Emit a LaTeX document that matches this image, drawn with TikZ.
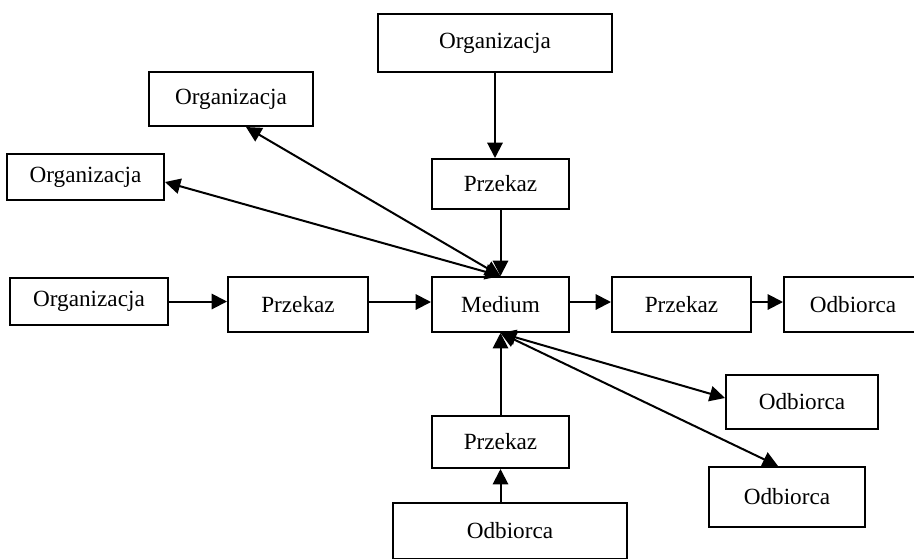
\documentclass[tikz,border=0pt]{standalone}
\usepackage{fontspec}
\setmainfont{Liberation Serif}
\usetikzlibrary{arrows.meta,calc}
\begin{document}
\begin{tikzpicture}[x=0.75pt,y=-0.75pt,
  box/.style={draw,line width=1.5pt,inner sep=0pt,font=\fontsize{17.4}{20}\selectfont},
  conn/.style={line width=1.5pt,-{Triangle[length=11.5pt,width=11.5pt]}},
  biconn/.style={line width=1.5pt,{Triangle[length=11.5pt,width=11.5pt]}-{Triangle[length=11.5pt,width=11.5pt]}}]
\useasboundingbox (0,0) rectangle (914,558);
\clip (0,0) rectangle (914,558);
% nodes
\node[box,minimum width=234*0.75pt,minimum height=58*0.75pt] (orgTop) at (495,43) {Organizacja};
\node[box,minimum width=164*0.75pt,minimum height=54*0.75pt] (orgUL) at (231,99) {Organizacja};
\node[box,minimum width=157*0.75pt,minimum height=46*0.75pt] (orgL) at (85.5,177) {Organizacja};
\node[box,minimum width=137*0.75pt,minimum height=50*0.75pt] (przTop) at (500.5,184) {Przekaz};
\node[box,minimum width=158*0.75pt,minimum height=47*0.75pt] (orgML) at (89,301.5) {Organizacja};
\node[box,minimum width=140*0.75pt,minimum height=55*0.75pt] (przML) at (298,304.5) {Przekaz};
\node[box,minimum width=137*0.75pt,minimum height=55*0.75pt] (medium) at (500.5,304.5) {Medium};
\node[box,minimum width=139*0.75pt,minimum height=55*0.75pt] (przR) at (681.5,304.5) {Przekaz};
\node[box,minimum width=138*0.75pt,minimum height=55*0.75pt] (odbR) at (853,304.5) {Odbiorca};
\node[box,minimum width=152*0.75pt,minimum height=54*0.75pt] (odb1) at (802,402) {Odbiorca};
\node[box,minimum width=137*0.75pt,minimum height=52*0.75pt] (przBot) at (500.5,442) {Przekaz};
\node[box,minimum width=156*0.75pt,minimum height=60*0.75pt] (odb2) at (787,497) {Odbiorca};
\node[box,minimum width=234*0.75pt,minimum height=56*0.75pt] (odbBot) at (510,531) {Odbiorca};
% connectors
\draw[conn] (orgTop.south -| 495,0) -- (495,0 |- przTop.north);
\draw[conn] (przTop.south) -- (medium.north);
\draw[biconn] ($(orgUL.south)+(15,0)$) -- (medium.north);
\draw[biconn] ($(orgL.east)+(0,5)$) -- (medium.north);
\draw[conn] (orgML.east) -- (orgML.east -| przML.west);
\draw[conn] (przML.east |- 0,302) -- (medium.west |- 0,302);
\draw[conn] (medium.east |- 0,302) -- (przR.west |- 0,302);
\draw[conn] (przR.east |- 0,302) -- (odbR.west |- 0,302);
\draw[conn] (przBot.north) -- (medium.south);
\draw[conn] (przBot.south |- odbBot.north) -- (przBot.south);
\draw[biconn] (medium.south) -- ($(odb1.west)+(0,-4)$);
\draw[biconn] (medium.south) -- ($(odb2.north)+(-9,0)$);
\end{tikzpicture}
\end{document}
